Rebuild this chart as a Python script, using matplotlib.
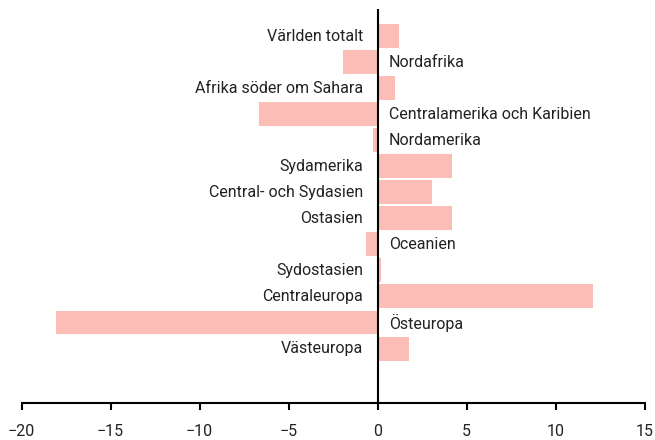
import matplotlib
matplotlib.use("Agg")
from matplotlib import pyplot as plt

regions = ["Världen totalt", "Nordafrika", "Afrika söder om Sahara",
           "Centralamerika och Karibien", "Nordamerika", "Sydamerika",
           "Central- och Sydasien", "Ostasien", "Oceanien", "Sydostasien",
           "Centraleuropa", "Östeuropa", "Västeuropa"]
change = [1.2, -1.95, 0.97, -6.67, -0.28, 4.17, 3.05, 4.17, -0.66, 0.17, 12.1, -18.07, 1.76]
xticks = [-20, -15, -10, -5, 0, 5, 10, 15]

plt.rcParams['font.family'] = ['Roboto', 'DejaVu Sans']
plt.rcParams['axes.unicode_minus'] = True

fig = plt.figure(figsize=(6.55, 4.4), dpi=100)
ax = fig.add_axes([21.7 / 655, 37.3 / 440, 623 / 655, (440 - 9 - 37.3) / 440])

pos = list(range(len(regions)))
ax.barh(pos, change, height=0.92, color="#fbbdb6", zorder=1)
ax.axvline(0, color="black", lw=1.5, zorder=3)

for y, name, v in zip(pos, regions, change):
    if v >= 0:
        ax.annotate(name, (0, y), xytext=(-10.5, 0), textcoords="offset points",
                    ha="right", va="center", fontsize=11.5, color="#222222")
    else:
        ax.annotate(name, (0, y), xytext=(8, 0), textcoords="offset points",
                    ha="left", va="center", fontsize=11.5, color="#222222")

ax.set_xlim(-20, 15)
ax.set_ylim(len(regions) - 1 + 2.08, -1.04)
ax.set_xticks(xticks)
ax.set_xticklabels([str(t).replace("-", "\u2212") for t in xticks])
ax.set_yticks([])
for s in ["top", "right", "left"]:
    ax.spines[s].set_visible(False)
ax.spines["bottom"].set_linewidth(1.5)
ax.tick_params(axis="x", length=5, width=1.5, pad=10, labelsize=11.5, labelcolor="#222222")

fig.savefig("out.png", dpi=100)
